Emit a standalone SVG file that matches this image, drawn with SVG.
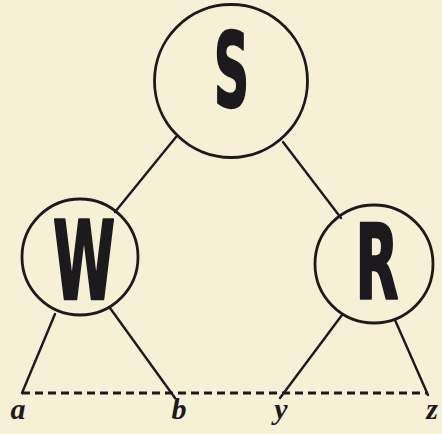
<svg xmlns="http://www.w3.org/2000/svg" width="442" height="434" viewBox="0 0 442 434">
<style>
.bg{fill:#f6f0d7}
.node{fill:none;stroke:#1c1a1c;stroke-width:2.8}
.edge{stroke:#1c1a1c;stroke-width:2.4;stroke-linecap:round;fill:none}
.dash{stroke:#1c1a1c;stroke-width:2.8;stroke-dasharray:8 5;fill:none}
.big{font-family:"DejaVu Sans Condensed","Liberation Sans",sans-serif;font-weight:bold;fill:#1c1a1c;stroke:#1c1a1c;stroke-width:2.5;stroke-linejoin:round;text-anchor:middle}
.lbl{font-family:"Liberation Serif",serif;font-style:italic;font-weight:bold;font-size:30px;fill:#1c1a1c;text-anchor:middle}
</style>
<rect class="bg" x="0" y="0" width="442" height="434"/>
<g id="connectors">
<line class="edge" x1="176" y1="137" x2="115" y2="212"/>
<line class="edge" x1="283" y1="142" x2="341" y2="218"/>
<line class="edge" x1="55" y1="314" x2="22" y2="393"/>
<line class="edge" x1="110" y1="308" x2="175" y2="398"/>
<line class="edge" x1="342" y1="315" x2="280" y2="398"/>
<line class="edge" x1="395" y1="320" x2="428" y2="395"/>
<line class="dash" x1="22" y1="393" x2="428" y2="393"/>
</g>
<g id="S">
<circle class="node" cx="231" cy="81" r="76.5"/>
<text class="big" x="231.5" y="107" font-size="104" textLength="35" lengthAdjust="spacingAndGlyphs">S</text>
</g>
<g id="W">
<circle class="node" cx="80" cy="257" r="58"/>
<text class="big" x="84" y="299" font-size="109" textLength="62" lengthAdjust="spacingAndGlyphs">W</text>
</g>
<g id="R">
<circle class="node" cx="374" cy="264" r="59"/>
<text class="big" x="377" y="299" font-size="103" textLength="43" lengthAdjust="spacingAndGlyphs">R</text>
</g>
<g id="labels">
<text class="lbl" x="18" y="419">a</text>
<text class="lbl" x="179" y="419">b</text>
<text class="lbl" x="281" y="419">y</text>
<text class="lbl" x="432" y="419">z</text>
</g>
</svg>
